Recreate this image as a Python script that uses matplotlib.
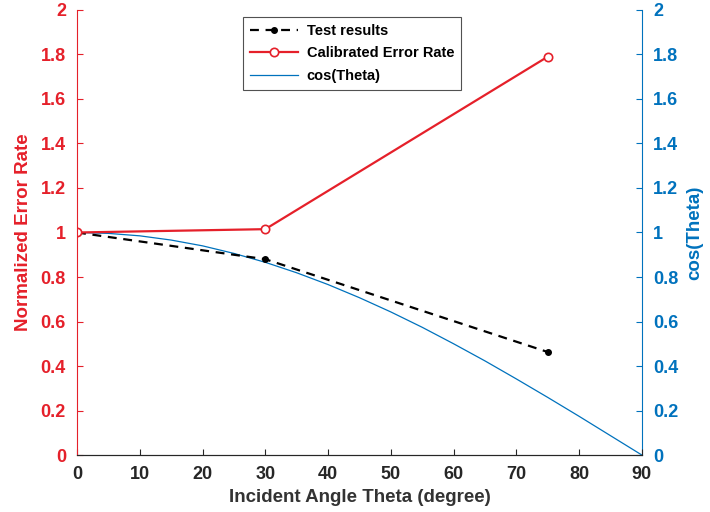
import matplotlib
matplotlib.use("Agg")
import matplotlib.pyplot as plt

plt.rcParams['font.family'] = ['Liberation Sans', 'DejaVu Sans']
plt.rcParams['font.weight'] = 'bold'

# ---- data ----
test_theta = [0, 30, 75]
test_rate = [1.0, 0.88, 0.463]

calib_theta = [0, 30, 75]
calib_rate = [1.0, 1.015, 1.79]

cos_theta_deg = [0, 5, 10, 15, 20, 25, 30, 35, 40, 45, 50, 55, 60, 65, 70, 75, 80, 85, 90]
cos_values = [1.0, 0.996, 0.985, 0.966, 0.940, 0.906, 0.866, 0.819, 0.766, 0.707,
              0.643, 0.574, 0.500, 0.423, 0.342, 0.259, 0.174, 0.087, 0.0]

x_ticks = [0, 10, 20, 30, 40, 50, 60, 70, 80, 90]
y_ticks = [0, 0.2, 0.4, 0.6, 0.8, 1, 1.2, 1.4, 1.6, 1.8, 2]
y_tick_labels = ['0', '0.2', '0.4', '0.6', '0.8', '1', '1.2', '1.4', '1.6', '1.8', '2']

RED = '#E5202A'
BLUE = '#0072BD'
DARK = '#262626'

fig = plt.figure(figsize=(7.1, 5.12), dpi=100)
ax = fig.add_axes([0.1085, 0.1113, 0.7955, 0.8692])
ax2 = ax.twinx()

l1, = ax.plot(test_theta, test_rate, '--', color='black', lw=1.6,
              marker='o', markersize=4, dashes=(4, 3), label='Test results')
l2, = ax.plot(calib_theta, calib_rate, '-', color=RED, lw=1.6,
              marker='o', markersize=6, markerfacecolor='white',
              markeredgecolor=RED, markeredgewidth=1.2, label='Calibrated Error Rate')
l3, = ax2.plot(cos_theta_deg, cos_values, '-', color=BLUE, lw=0.9, label='cos(Theta)')

ax.set_xlim(0, 90)
ax.set_ylim(0, 2)
ax2.set_ylim(0, 2)
ax.set_xticks(x_ticks)
ax.set_yticks(y_ticks)
ax.set_yticklabels(y_tick_labels)
ax2.set_yticks(y_ticks)
ax2.set_yticklabels(y_tick_labels)

for a in (ax, ax2):
    a.spines['top'].set_visible(False)
    a.spines['bottom'].set_color(DARK)
ax.spines['left'].set_color(RED)
ax.spines['right'].set_visible(False)
ax2.spines['left'].set_visible(False)
ax2.spines['right'].set_color(BLUE)

ax.tick_params(axis='x', direction='in', colors=DARK, labelsize=13, length=4, pad=8)
ax.tick_params(axis='y', direction='in', colors=RED, labelsize=13, length=4, pad=8)
ax2.tick_params(axis='y', direction='in', colors=BLUE, labelsize=13, length=4, pad=8)
for lab in ax.get_xticklabels() + ax.get_yticklabels() + ax2.get_yticklabels():
    lab.set_fontweight('bold')

ax.set_xlabel('Incident Angle Theta (degree)', fontsize=13.5, fontweight='bold', color='#333333', labelpad=4)
ax.set_ylabel('Normalized Error Rate', fontsize=13.5, fontweight='bold', color=RED, labelpad=6)
ax2.set_ylabel('cos(Theta)', fontsize=13.5, fontweight='bold', color=BLUE, labelpad=6)

leg = ax.legend(handles=[l1, l2, l3], loc='upper left', bbox_to_anchor=(0.294, 0.984),
                borderaxespad=0, fontsize=10.5, frameon=True, fancybox=False, edgecolor=DARK,
                handlelength=3.3, borderpad=0.45, labelspacing=0.6, handletextpad=0.6)
leg.get_frame().set_linewidth(0.8)
for t in leg.get_texts():
    t.set_fontweight('bold')
ax.set_zorder(ax2.get_zorder() + 1)
ax.patch.set_visible(False)

fig.savefig('out.png', dpi=100)
